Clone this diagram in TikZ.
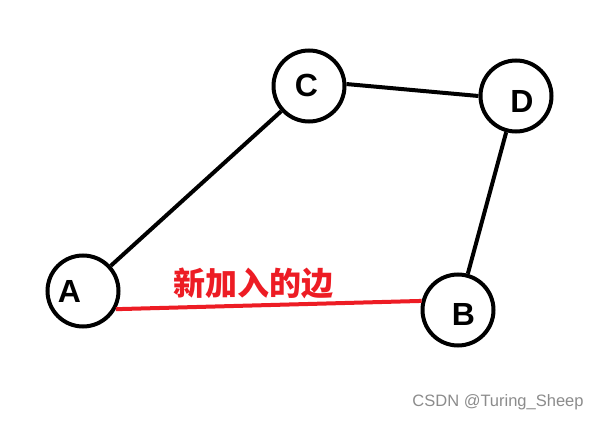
\documentclass[tikz,border=0pt]{standalone}
\usepackage{fontspec}
\setmainfont{Liberation Sans}
\newfontfamily\cjk{Noto Sans CJK SC}
\definecolor{pred}{RGB}{237,28,36}
\begin{document}
\begin{tikzpicture}[x=1pt,y=-1pt,
  vtx/.style={circle,draw=black,line width=4pt,minimum size=71pt,inner sep=0pt},
  lbl/.style={font=\fontsize{32}{32}\selectfont\bfseries,inner sep=0pt},
  edge/.style={line width=4pt,black},
  newedge/.style={line width=4pt,pred}]
\useasboundingbox (0,0) rectangle (600,422);
\fill[white] (0,0) rectangle (600,422);
\node[vtx] (A) at (83,291) {};
\node[vtx] (C) at (309,86) {};
\node[vtx] (D) at (516,96) {};
\node[vtx] (B) at (458,310) {};
\node[lbl] (la) at (69.5,291) {A};
\node[lbl] (lc) at (306.5,85) {C};
\node[lbl] (ld) at (522,101) {D};
\node[lbl] (lb) at (463.5,314) {B};
\draw[edge] (A) -- (C);
\draw[edge] (C.3) -- (D.180);
\draw[edge] (D) -- (B);
\draw[newedge] (A.-29) -- (B.166);
\node[text=pred,font=\cjk\bfseries\fontsize{32}{32}\selectfont,inner sep=0pt] (t) at (253.5,283) {新加入的边};
\node[text=black!45,font=\fontsize{16.5}{16.5}\selectfont,inner sep=0pt] (w) at (498,402) {CSDN @Turing\_Sheep};
\end{tikzpicture}
\end{document}
